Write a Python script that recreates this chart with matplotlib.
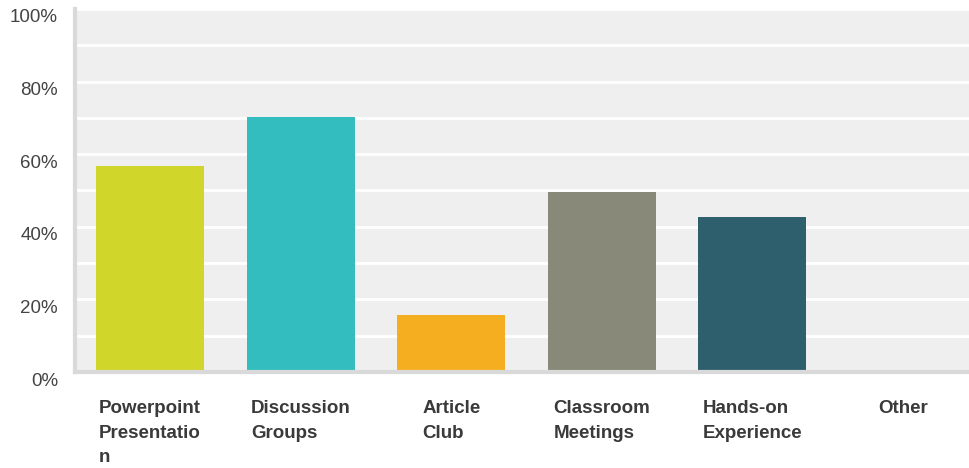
import matplotlib
matplotlib.use('Agg')
import matplotlib.pyplot as plt
import matplotlib.transforms as mtransforms

categories = ['Powerpoint\nPresentatio\nn', 'Discussion\nGroups', 'Article\nClub',
              'Classroom\nMeetings', 'Hands-on\nExperience', 'Other']
values = [56.7, 70.2, 15.7, 49.6, 42.7, 0.0]
colors = ['#d0d62a', '#33bdbf', '#f5ae20', '#89897a', '#2e5f6d', '#cccccc']
yticks = [0, 20, 40, 60, 80, 100]

plt.rcParams['font.family'] = ['Liberation Sans', 'DejaVu Sans']

fig = plt.figure(figsize=(9.69, 4.68), dpi=100)
# plot area in pixels: left 75, right 978 (runs off the image), top 9, bottom 372
W, H = 969.0, 468.0
ax = fig.add_axes([75 / W, (H - 372) / H, (978 - 75) / W, (372 - 9) / H])
ax.set_facecolor('#efefef')

x = list(range(len(categories)))
ax.bar(x, values, width=0.72, color=colors, zorder=3)

ax.set_xlim(-0.5, 5.5)
ax.set_ylim(0, 100)
ax.set_yticks(yticks)
ax.set_yticks(range(10, 100, 20), minor=True)
ax.set_yticklabels([])
ax.grid(axis='y', which='both', color='white', linewidth=2, zorder=1)
ax.tick_params(axis='y', which='both', length=0)

# y labels sit a little below their gridlines
trans = mtransforms.blended_transform_factory(ax.transAxes, ax.transData) + \
    mtransforms.ScaledTranslation(-17 / 100.0, -9 / 100.0, fig.dpi_scale_trans)
for v in yticks:
    ax.text(0, v, '%d%%' % v, transform=trans, ha='right', va='center',
            fontsize=13.5, color='#444444')

ax.set_xticks(x)
ax.set_xticklabels(categories, fontweight='bold', fontsize=13.5, color='#3a3a3a',
                   multialignment='left', linespacing=1.6)
ax.tick_params(axis='x', length=0, pad=20)

for s in ['top', 'right']:
    ax.spines[s].set_visible(False)
for s in ['left', 'bottom']:
    ax.spines[s].set_color('#d9d9d9')
    ax.spines[s].set_linewidth(3)
    ax.spines[s].set_zorder(4)

fig.savefig('out.png', dpi=100)
